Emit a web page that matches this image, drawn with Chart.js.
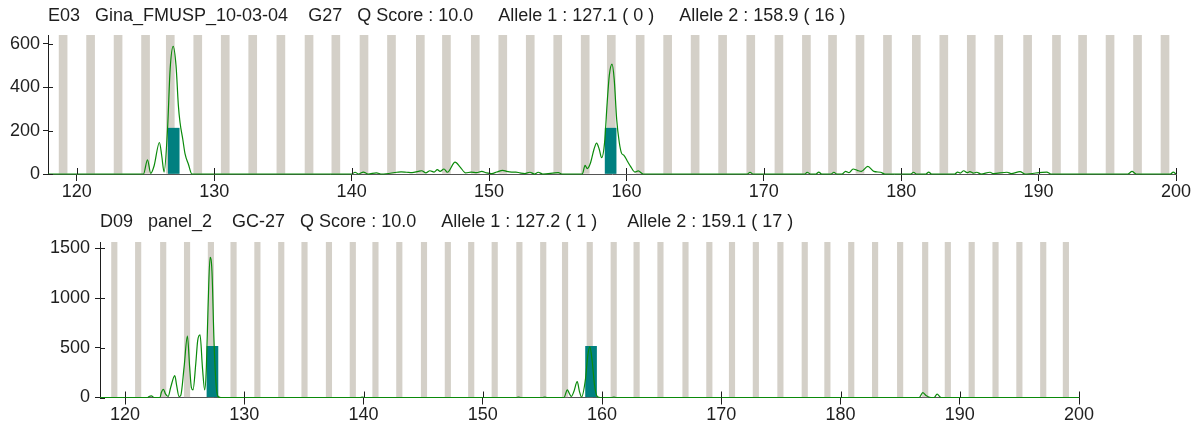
<!DOCTYPE html>
<html>
<head>
<meta charset="utf-8">
<script src="https://cdn.jsdelivr.net/npm/chart.js@4.4.1/dist/chart.umd.min.js"></script>
<style>
  html, body { margin: 0; padding: 0; background: #fff; }
  #wrap { position: relative; width: 1194px; height: 422px; overflow: hidden; }
  .panel { position: absolute; left: 0; width: 1194px; }
  #p1 { top: 0; height: 205px; }
  #p2 { top: 205px; height: 217px; }
</style>
</head>
<body>
<div id="wrap">
  <div class="panel" id="p1"><canvas id="trace-top"></canvas></div>
  <div class="panel" id="p2"><canvas id="trace-bottom"></canvas></div>
</div>
<script>
"use strict";

/* --- DATA --- */

const size_ticks = [120, 130, 140, 150, 160, 170, 180, 190, 200];

// sample E03 (top)
const top_title = 'E03   Gina_FMUSP_10-03-04    G27   Q Score : 10.0     Allele 1 : 127.1 ( 0 )     Allele 2 : 158.9 ( 16 )';
const top_rfu_ticks = [0, 200, 400, 600];
const top_bins = [119, 121, 123, 125, 126.8, 128.8, 130.8, 132.8, 134.85, 136.9, 138.85, 140.9, 142.9,
  145, 146.9, 149, 151, 153, 155, 157, 158.9, 161, 163, 165, 167, 169.05, 171.1,
  173.1, 175, 177, 179, 181.1, 183.1, 185.1, 187.1, 189.2, 191.3, 193.2, 195.2, 197.2, 199.2];
const top_alleles = [127.05, 158.85];
const top_allele_height = [211, 211];
const top_trace_size = [117.9, 124.85, 125.14, 125.38, 125.62, 126.01, 126.18, 126.35, 126.6, 126.79, 127.01, 127.22,
  127.39, 127.51, 127.71, 127.88, 128.12, 128.37, 140.0, 140.25, 140.5, 140.85, 141.2, 141.8, 142.2, 143.3,
  143.6, 144.0, 144.4, 144.85, 145.1, 145.4, 145.7, 146.0, 146.24, 146.43, 146.72, 146.97, 147.53, 147.9,
  148.3, 148.7, 149.1, 149.47, 149.83, 150.2, 150.56, 151.0, 151.28, 151.65, 151.96, 152.25, 152.6, 152.98,
  153.3, 153.58, 153.9, 155.04, 155.3, 156.79, 156.99, 157.15, 157.39, 157.64, 157.83, 158.02, 158.2, 158.41,
  158.6, 158.75, 158.95, 159.11, 159.29, 159.48, 159.65, 159.82, 160.06, 160.31, 160.62, 160.86, 161.22,
  168.8, 169.0, 169.2, 173.0, 173.15, 173.4, 173.8, 174.0, 174.2, 174.9, 175.1, 175.3, 175.7, 175.95, 176.2,
  176.5, 176.8, 177.1, 177.57, 178.0, 178.5, 178.8, 180.7, 180.9, 181.1, 181.8, 182.0, 182.2, 183.9, 184.1,
  184.3, 184.55, 184.8, 185.0, 185.25, 185.5, 185.8, 186.47, 186.7, 187.7, 188.0, 188.65, 189.0, 190.6,
  190.9, 196.5, 196.8, 197.1, 199.6, 199.8, 200];
const top_trace_rfu = [0, 0, 65, 3, 37, 145, 83, 9, 206, 483, 588, 498,
  314, 237, 160, 91, 45, 0, 0, 8, 0, 9, 0, 5, 0, 8,
  10, 8, 6, 12, 15, 5, 15, 9, 20, 12, 23, 8, 55, 32,
  5, 9, 6, 12, 5, 2, 9, 17, 12, 9, 9, 5, 2, 8,
  0, 8, 0, 6, 0, 0, 40, 25, 52, 114, 142, 114, 75, 145,
  329, 452, 506, 437, 252, 145, 95, 86, 60, 34, 9, 14, 0,
  0, 8, 0, 0, 8, 0, 0, 9, 0, 0, 8, 0, 0, 12, 6,
  23, 17, 12, 35, 12, 8, 0, 0, 8, 0, 0, 9, 0, 0, 9,
  4, 15, 6, 11, 4, 8, 0, 8, 2, 8, 2, 11, 0, 9,
  0, 0, 12, 0, 0, 9, 0];

// sample D09 (bottom)
const bottom_title = 'D09   panel_2    GC-27   Q Score : 10.0     Allele 1 : 127.2 ( 1 )      Allele 2 : 159.1 ( 17 )';
const bottom_rfu_ticks = [0, 500, 1000, 1500];
const bottom_bins = [119.1, 121.1, 123.2, 125.2, 127.2, 129.1, 131.1, 133.1, 135.05, 137.1, 139.1, 141.0, 143.0,
  145.07, 147.07, 149.03, 151.0, 153.07, 155.07, 156.9, 158.97, 160.98, 162.9, 164.9, 167.0, 169.0, 170.9,
  172.9, 174.96, 177.0, 178.9, 180.9, 182.9, 185.0, 187.1, 189.0, 191.0, 193.0, 195.0, 197.0, 198.9];
const bottom_alleles = [127.33, 159.08];
const bottom_allele_height = [515, 515];
const bottom_trace_size = [117.9, 121.9, 122.01, 122.21, 122.43, 122.93, 123.05, 123.22, 123.39, 123.61, 123.83,
  124.17, 124.33, 124.53, 124.67, 124.95, 125.23, 125.42, 125.56, 125.7, 125.93, 126.09, 126.29, 126.49,
  126.68, 126.82, 126.96, 127.13, 127.29, 127.46, 127.63, 127.8, 128.02, 139.7, 139.9, 140.1, 152.8, 153.0,
  153.2, 155.0, 155.2, 155.4, 156.81, 157.09, 157.25, 157.42, 157.64, 157.92, 158.11, 158.28, 158.62,
  158.81, 158.98, 159.18, 159.37, 159.6, 159.87, 160.8, 161.0, 161.2, 186.6, 186.9, 187.17, 187.58,
  187.85, 188.1, 188.43, 200];
const bottom_trace_rfu = [0, 0, 10, 17, 0, 0, 53, 83, 37, 10, 103,
  220, 120, 10, 20, 303, 617, 303, 103, 77, 337, 570, 630, 303,
  77, 303, 903, 1410, 1270, 570, 137, 10, 0, 0, 5, 0, 0, 5,
  0, 0, 5, 0, 0, 77, 43, 10, 60, 160, 60, 5, 193,
  427, 510, 360, 127, 10, 0, 0, 5, 0, 0, 50, 20, 0,
  0, 33, 0, 0];

/* --- STYLE --- */

const FONT = '"Liberation Sans", Arial, sans-serif';
const TEXT = '#1e1e1e';
const BIN_GREY = '#d4d0c8';
const ALLELE_TEAL = '#008080';
const TRACE_GREEN = '#0a8a0a';

// ticks in this kind of plot cross the axis, chart.js only draws the outside half
const cross_ticks = {
  id: 'cross_ticks',
  afterDatasetsDraw(chart) {
    const ctx = chart.ctx;
    const area = chart.chartArea;
    const xs = chart.scales.x;
    const ys = chart.scales.y;
    ctx.save();
    ctx.strokeStyle = TEXT;
    ctx.lineWidth = 1;
    ctx.beginPath();
    xs.ticks.forEach((t, i) => {
      const px = Math.round(xs.getPixelForTick(i)) + 0.5;
      ctx.moveTo(px, area.bottom - 6);
      ctx.lineTo(px, area.bottom);
    });
    ys.ticks.forEach((t, i) => {
      const py = Math.round(ys.getPixelForTick(i)) + 0.5;
      ctx.moveTo(area.left, py);
      ctx.lineTo(area.left + 5, py);
    });
    ctx.stroke();
    ctx.restore();
  }
};

function make_trace_chart(canvas_id, cfg) {
  const bins = cfg.bins.map(b => ({x: b, y: [0, cfg.rfu_max]}));
  const alleles = cfg.alleles.map((a, i) => ({x: a, y: cfg.allele_height[i]}));
  const trace = cfg.trace_size.map((s, i) => ({x: s, y: cfg.trace_rfu[i]}));

  return new Chart(document.getElementById(canvas_id), {
    type: 'line',
    data: {
      datasets: [
        {
          label: 'trace',
          data: trace,
          borderColor: TRACE_GREEN,
          borderWidth: 1.2,
          pointRadius: 0,
          cubicInterpolationMode: 'monotone',
          fill: false,
          clip: false,
          order: 0
        },
        {
          type: 'bar',
          label: 'allele',
          data: alleles,
          backgroundColor: ALLELE_TEAL,
          borderWidth: 0,
          barThickness: 11,
          grouped: false,
          order: 1
        },
        {
          type: 'bar',
          label: 'bin',
          data: bins,
          backgroundColor: BIN_GREY,
          borderWidth: 0,
          barThickness: cfg.bin_px,
          grouped: false,
          order: 2
        }
      ]
    },
    options: {
      responsive: true,
      maintainAspectRatio: false,
      animation: false,
      events: [],
      layout: {
        padding: {top: 0, left: 0, right: cfg.pad_right, bottom: 0}
      },
      plugins: {
        legend: {display: false},
        tooltip: {enabled: false},
        title: {
          display: true,
          text: cfg.title,
          align: 'start',
          fullSize: false,
          color: TEXT,
          font: {family: FONT, size: 18, weight: 'normal'},
          padding: cfg.title_pad
        }
      },
      scales: {
        x: {
          type: 'linear',
          min: 117.9,
          max: 200,
          offset: false,
          afterBuildTicks: (scale) => {
            scale.ticks = size_ticks.map(v => ({value: v}));
          },
          afterFit: (scale) => { scale.height = cfg.x_height; },
          grid: {display: true, drawOnChartArea: false, offset: false, tickLength: 7, tickColor: TEXT},
          border: {display: true, color: '#555'},
          ticks: {
            color: TEXT, font: {family: FONT, size: 18}, padding: 0, maxRotation: 0, autoSkip: false,
            callback: (v) => String(v)
          }
        },
        y: {
          type: 'linear',
          min: 0,
          max: cfg.rfu_max,
          afterBuildTicks: (scale) => {
            scale.ticks = cfg.rfu_ticks.map(v => ({value: v}));
          },
          afterFit: (scale) => { scale.width = cfg.y_width; },
          grid: {display: true, drawOnChartArea: false, tickLength: 5, tickColor: TEXT},
          border: {display: true, color: TEXT},
          ticks: {
            color: TEXT, font: {family: FONT, size: 18}, padding: cfg.y_pad,
            callback: (v) => String(v)
          }
        }
      }
    },
    plugins: [cross_ticks]
  });
}

/* --- TOP: E03 --- */
make_trace_chart('trace-top', {
  title: top_title,
  bins: top_bins,
  alleles: top_alleles,
  allele_height: top_allele_height,
  trace_size: top_trace_size,
  trace_rfu: top_trace_rfu,
  rfu_ticks: top_rfu_ticks,
  rfu_max: 640,
  bin_px: 8,
  y_width: 48,
  y_pad: 3,
  x_height: 31,
  pad_right: 18,
  title_pad: {top: 5.2, bottom: 8.2}
});

/* --- BOTTOM: D09 --- */
make_trace_chart('trace-bottom', {
  title: bottom_title,
  bins: bottom_bins,
  alleles: bottom_alleles,
  allele_height: bottom_allele_height,
  trace_size: bottom_trace_size,
  trace_rfu: bottom_trace_rfu,
  rfu_ticks: bottom_rfu_ticks,
  rfu_max: 1565,
  bin_px: 5.5,
  y_width: 100,
  y_pad: 5,
  x_height: 24.5,
  pad_right: 115,
  title_pad: {top: 6.2, bottom: 9.2}
});
</script>
</body>
</html>
